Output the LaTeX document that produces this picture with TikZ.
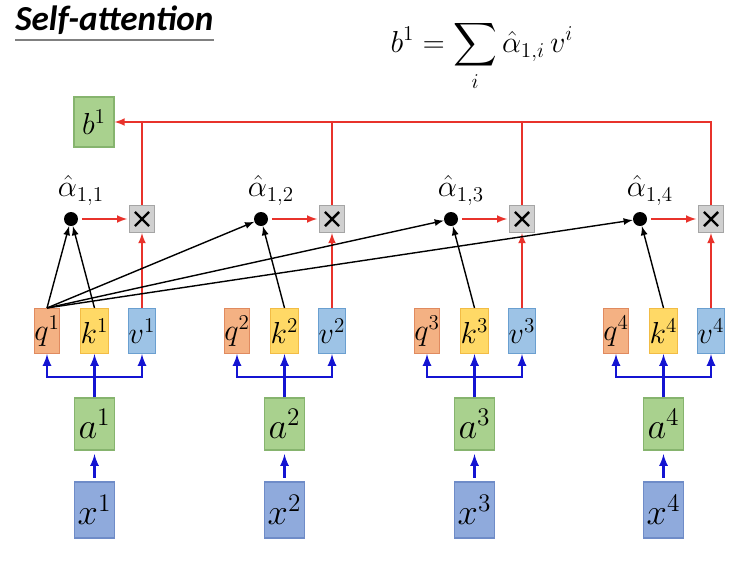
\documentclass[tikz,border=0pt]{standalone}
\usepackage{amsmath}
\usepackage{fontspec}
\newfontfamily\titlefont{Carlito}
\usetikzlibrary{positioning}

\definecolor{qfill}{HTML}{F4B183}
\definecolor{qline}{HTML}{E08A5F}
\definecolor{kfill}{HTML}{FFD966}
\definecolor{kline}{HTML}{F2BC45}
\definecolor{vfill}{HTML}{9DC3E6}
\definecolor{vline}{HTML}{6A9FD0}
\definecolor{afill}{HTML}{A9D18E}
\definecolor{aline}{HTML}{86B46E}
\definecolor{xfill}{HTML}{8FAADC}
\definecolor{xline}{HTML}{6F8CC8}
\definecolor{mulfill}{HTML}{D0D0D0}
\definecolor{mulline}{HTML}{A5A5A5}
\definecolor{attred}{HTML}{E8322B}
\definecolor{embblue}{HTML}{1414D2}

\tikzset{
  vec/.style={draw, line width=0.6pt, minimum width=0.5cm, minimum height=0.9cm, inner sep=0pt, font=\LARGE},
  qvec/.style={vec, fill=qfill, draw=qline},
  kvec/.style={vec, fill=kfill, draw=kline},
  vvec/.style={vec, fill=vfill, draw=vline},
  avec/.style={vec, fill=afill, draw=aline, minimum width=0.8cm, minimum height=1.04cm, font=\huge},
  xvec/.style={vec, fill=xfill, draw=xline, minimum width=0.8cm, minimum height=1.12cm, font=\huge},
  bvec/.style={vec, fill=afill, draw=aline, minimum width=0.8cm, minimum height=1.0cm},
  mul/.style={draw=mulline, fill=mulfill, line width=0.6pt, minimum width=0.5cm, minimum height=0.54cm, inner sep=0pt,
    path picture={\draw[black, line width=1.4pt] ([shift={(-4pt,-4pt)}]path picture bounding box.center) -- ++(8pt,8pt)
      ([shift={(-4pt,4pt)}]path picture bounding box.center) -- ++(8pt,-8pt);}},
  score/.style={circle, fill=black, minimum size=0.28cm, inner sep=0pt},
  redline/.style={attred, line width=1pt},
  blueline/.style={embblue, line width=1.3pt},
}

\begin{document}
\begin{tikzpicture}[x=0.02cm, y=-0.02cm, >=latex]
\useasboundingbox (0,0) rectangle (744,562);

% title and formula
\node[anchor=west, inner sep=0pt, font=\titlefont\bfseries\itshape\fontsize{20}{24}\selectfont] (title) at (15,20) {Self-attention};
\draw[gray, line width=1.3pt] ([yshift=-3pt]title.south west) -- ([yshift=-3pt]title.south east);
\node[font=\LARGE, inner sep=0pt] (sum) at (482,56) {$\displaystyle b^1 = \sum_i \hat{\alpha}_{1,i}\, v^i$};

% output
\node[bvec] (b1) at (94,122) {$b^1$};

% the four positions
\foreach \gx [count=\i] in {47,237,427,616} {
  \node[qvec] (q\i) at (\gx,331) {$q^{\i}$};
  \node[kvec] (k\i) at (\gx+47.5,331) {$k^{\i}$};
  \node[vvec] (v\i) at (\gx+95,331) {$v^{\i}$};
  \node[avec] (a\i) at (\gx+47.5,424) {$a^{\i}$};
  \node[xvec] (x\i) at (\gx+47.5,510) {$x^{\i}$};
  \node[score] (s\i) at (\gx+24,219) {};
  \node[font=\LARGE, above=0pt of s\i, xshift=0.2cm] (alpha\i) {$\hat{\alpha}_{1,\i}$};
  \node[mul] (m\i) at (\gx+95,219) {};
  \coordinate (j\i) at (\gx+47.5,377);

  % embedding
  \draw[blueline,->,shorten <=2pt,shorten >=2pt] (x\i) -- (a\i);
  \draw[blueline] (a\i.north) -- (j\i);
  \draw[blueline,->] (j\i) -| (q\i.south);
  \draw[blueline,->] (j\i) -| (v\i.south);
  \draw[blueline,->] (j\i) -- (k\i.south);

  % attention
  \draw[->, line width=0.8pt] (q1.north) -- (s\i);
  \draw[->, line width=0.8pt] (k\i.north) -- (s\i);
  \draw[redline,->,shorten <=2pt,shorten >=1pt] (s\i) -- (m\i);
  \draw[redline,->] (v\i.north) -- (m\i.south);
}

% weighted sum
\draw[redline,->] (m4.north) |- (b1.east);
\foreach \i in {1,2,3}
  \draw[redline] (m\i.north) -- (m\i.north |- b1.east);

\end{tikzpicture}
\end{document}
